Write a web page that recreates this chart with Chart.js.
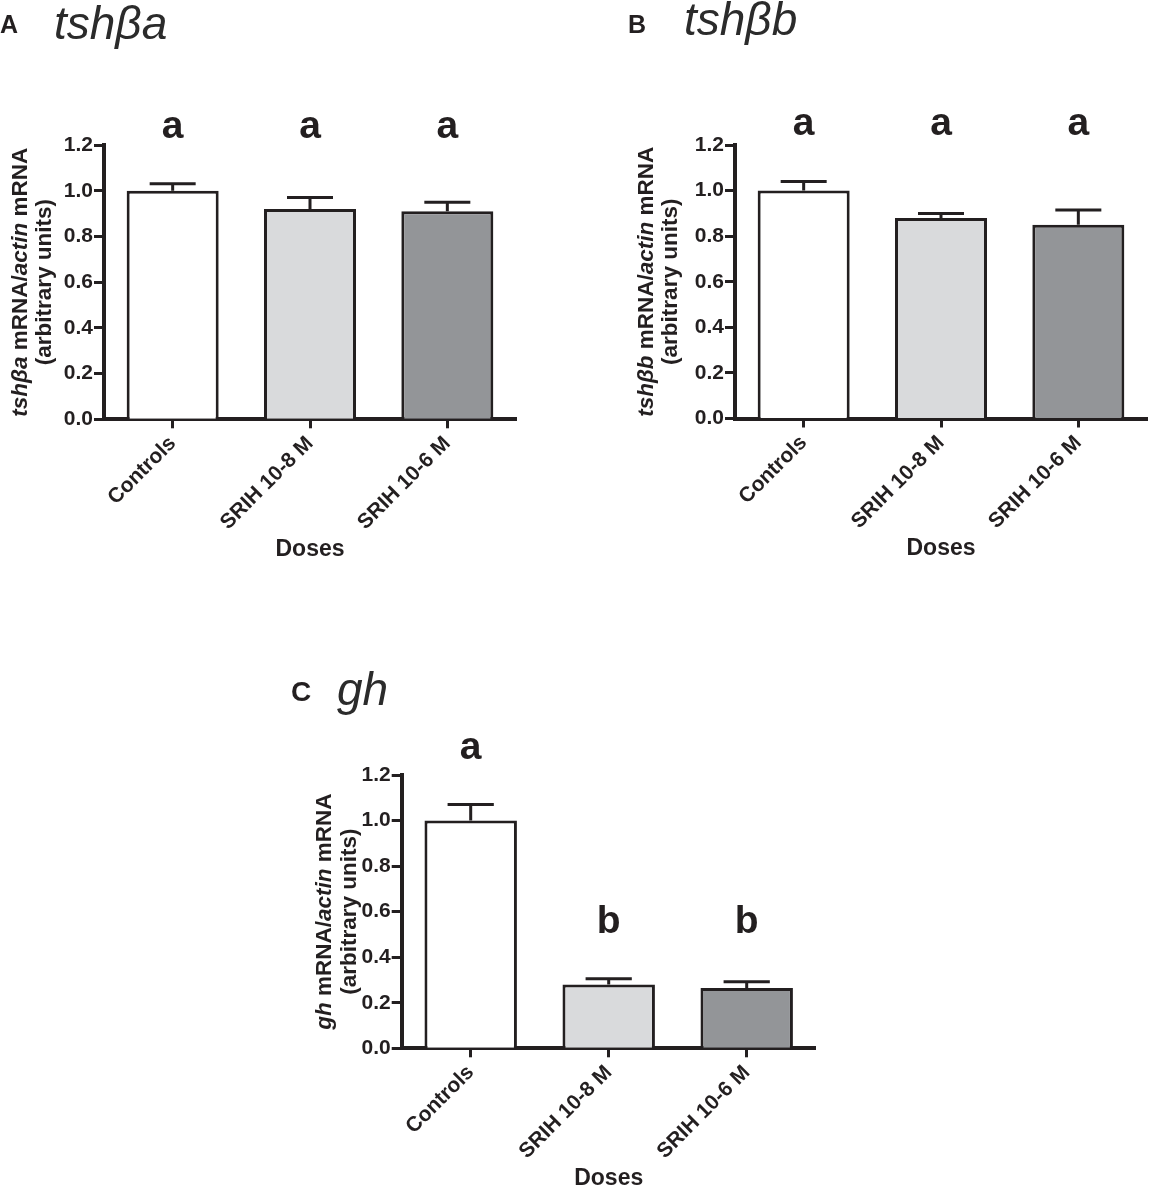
<!DOCTYPE html>
<html>
<head>
<meta charset="utf-8">
<script src="https://cdn.jsdelivr.net/npm/chart.js@4.4.1/dist/chart.umd.min.js"></script>
<style>
  body { margin: 0; background: #fff; width: 1151px; height: 1188px; position: relative; overflow: hidden; }
  canvas { position: absolute; }
</style>
</head>
<body>
<canvas id="chartA" width="540" height="570" style="left:0;top:0"></canvas>
<canvas id="chartB" width="531" height="570" style="left:620px;top:0"></canvas>
<canvas id="chartC" width="560" height="548" style="left:280px;top:640px"></canvas>
<script>
// categories and tick labels
const doses = ['Controls', 'SRIH 10-8 M', 'SRIH 10-6 M'];
const yTickLabels = ['0.0', '0.2', '0.4', '0.6', '0.8', '1.0', '1.2'];

// tshβa
const tshbaMean = [1.00, 0.92, 0.91];
const tshbaSem = [0.03, 0.05, 0.04];
const tshbaLetters = ['a', 'a', 'a'];

// tshβb
const tshbbMean = [1.00, 0.88, 0.85];
const tshbbSem = [0.04, 0.02, 0.065];
const tshbbLetters = ['a', 'a', 'a'];

// gh
const ghMean = [1.00, 0.28, 0.265];
const ghSem = [0.07, 0.025, 0.027];
const ghLetters = ['a', 'b', 'b'];

const barColors = ['#ffffff', '#d9dadc', '#939598'];
const ink = '#231f20';
const FONT = '"Liberation Sans", Arial, sans-serif';

Chart.defaults.font.family = FONT;

// rotated axis title with italic gene names
function drawRotated(ctx, parts, cx, cy, size) {
    let fonts = parts.map(p => (p[1] ? 'italic bold ' : 'bold ') + size + 'px ' + FONT);
    let total = 0;
    let widths = parts.map((p, k) => {
        ctx.font = fonts[k];
        let w = ctx.measureText(p[0]).width;
        total += w;
        return w;
    });
    ctx.save();
    ctx.translate(cx, cy);
    ctx.rotate(-Math.PI / 2);
    ctx.textAlign = 'left';
    ctx.textBaseline = 'middle';
    let x = -total / 2;
    parts.forEach((p, k) => {
        ctx.font = fonts[k];
        ctx.fillText(p[0], x, 0);
        x += widths[k];
    });
    ctx.restore();
}

const panelPlugin = {
    id: 'panel',
    afterDatasetsDraw(chart, args, opts) {
        let ctx = chart.ctx;
        let meta = chart.getDatasetMeta(0);
        let y = chart.scales.y;
        let area = chart.chartArea;
        ctx.save();

        // error bars (upper half only)
        ctx.strokeStyle = ink;
        ctx.lineWidth = 3;
        let tops = [];
        meta.data.forEach((bar, i) => {
            let top = y.getPixelForValue(opts.mean[i] + opts.sem[i]);
            tops.push(top);
            let half = bar.width / 4;
            ctx.beginPath();
            ctx.moveTo(bar.x, bar.y);
            ctx.lineTo(bar.x, top);
            ctx.moveTo(bar.x - half, top);
            ctx.lineTo(bar.x + half, top);
            ctx.stroke();
        });

        // significance letters, same height within a group
        ctx.fillStyle = ink;
        ctx.font = 'bold 39px ' + FONT;
        ctx.textAlign = 'center';
        ctx.textBaseline = 'alphabetic';
        meta.data.forEach((bar, i) => {
            let groupTop = Infinity;
            opts.letters.forEach((l, j) => {
                if (l === opts.letters[i]) groupTop = Math.min(groupTop, tops[j]);
            });
            ctx.fillText(opts.letters[i], bar.x, groupTop - 46);
        });

        // x title
        ctx.font = 'bold 23px ' + FONT;
        ctx.textBaseline = 'middle';
        ctx.fillText('Doses', (area.left + area.right) / 2, area.bottom + 130);

        // y title, two lines
        let cy = (area.top + area.bottom) / 2;
        drawRotated(ctx, opts.yTitle, opts.yTitleX[0], cy, 22.5);
        drawRotated(ctx, [['(arbitrary units)', false]], opts.yTitleX[1], cy, 22.5);

        // panel tag and gene name
        ctx.textAlign = 'left';
        ctx.textBaseline = 'alphabetic';
        ctx.font = 'bold ' + opts.tagSize + 'px ' + FONT;
        ctx.fillText(opts.tag, opts.tagPos[0], opts.tagPos[1]);
        ctx.fillStyle = '#2b2b2b';
        ctx.font = 'italic ' + opts.geneSize + 'px ' + FONT;
        ctx.fillText(opts.gene, opts.genePos[0], opts.genePos[1]);
        ctx.restore();
    }
};

function makeChart(id, mean, sem, letters, panel) {
    return new Chart(document.getElementById(id), {
        type: 'bar',
        data: {
            labels: doses,
            datasets: [{
                data: mean,
                backgroundColor: barColors,
                borderColor: ink,
                borderWidth: 3,
                barPercentage: 0.67,
                categoryPercentage: 1
            }]
        },
        options: {
            responsive: false,
            animation: false,
            layout: { padding: { top: panel.top, right: panel.right, left: 0, bottom: 0 } },
            plugins: {
                legend: { display: false },
                tooltip: { enabled: false },
                panel: {
                    mean: mean, sem: sem, letters: letters,
                    yTitle: panel.yTitle, yTitleX: panel.yTitleX,
                    tag: panel.tag, tagSize: panel.tagSize, tagPos: panel.tagPos,
                    gene: panel.gene, geneSize: panel.geneSize, genePos: panel.genePos
                }
            },
            scales: {
                x: {
                    z: 1,
                    grid: { drawOnChartArea: false, offset: false, tickLength: 9, tickWidth: 3, tickColor: ink },
                    border: { color: ink, width: 4 },
                    ticks: {
                        color: ink,
                        font: { size: 21, weight: 'bold' },
                        minRotation: 45, maxRotation: 45,
                        autoSkip: false, padding: 3
                    },
                    afterFit: function (s) { s.height = panel.xh; }
                },
                y: {
                    min: 0,
                    max: 1.2,
                    grid: { drawOnChartArea: false, tickLength: 10, tickWidth: 3, tickColor: ink },
                    border: { color: ink, width: 4 },
                    ticks: {
                        stepSize: 0.2,
                        color: ink,
                        font: { size: 21, weight: 'bold' },
                        padding: 1,
                        callback: function (v, i) { return yTickLabels[i]; }
                    },
                    afterFit: function (s) { s.width = panel.yw; }
                }
            }
        },
        plugins: [panelPlugin]
    });
}

makeChart('chartA', tshbaMean, tshbaSem, tshbaLetters, {
    top: 145, right: 24, yw: 104, xh: 150.7,
    yTitle: [['tshβa', true], [' mRNA/', false], ['actin', true], [' mRNA', false]],
    yTitleX: [21, 45],
    tag: 'A', tagSize: 25, tagPos: [0, 33],
    gene: 'tshβa', geneSize: 46, genePos: [54, 39]
});

makeChart('chartB', tshbbMean, tshbbSem, tshbbLetters, {
    top: 145, right: 4, yw: 115, xh: 151.5,
    yTitle: [['tshβb', true], [' mRNA/', false], ['actin', true], [' mRNA', false]],
    yTitleX: [27, 51],
    tag: 'B', tagSize: 25, tagPos: [8, 33],
    gene: 'tshβb', geneSize: 46, genePos: [64, 35]
});

makeChart('chartC', ghMean, ghSem, ghLetters, {
    top: 135, right: 24.3, yw: 121.7, xh: 139.7,
    yTitle: [['gh', true], [' mRNA/', false], ['actin', true], [' mRNA', false]],
    yTitleX: [45, 70],
    tag: 'C', tagSize: 28, tagPos: [11, 61],
    gene: 'gh', geneSize: 46, genePos: [57, 65]
});
</script>
</body>
</html>
